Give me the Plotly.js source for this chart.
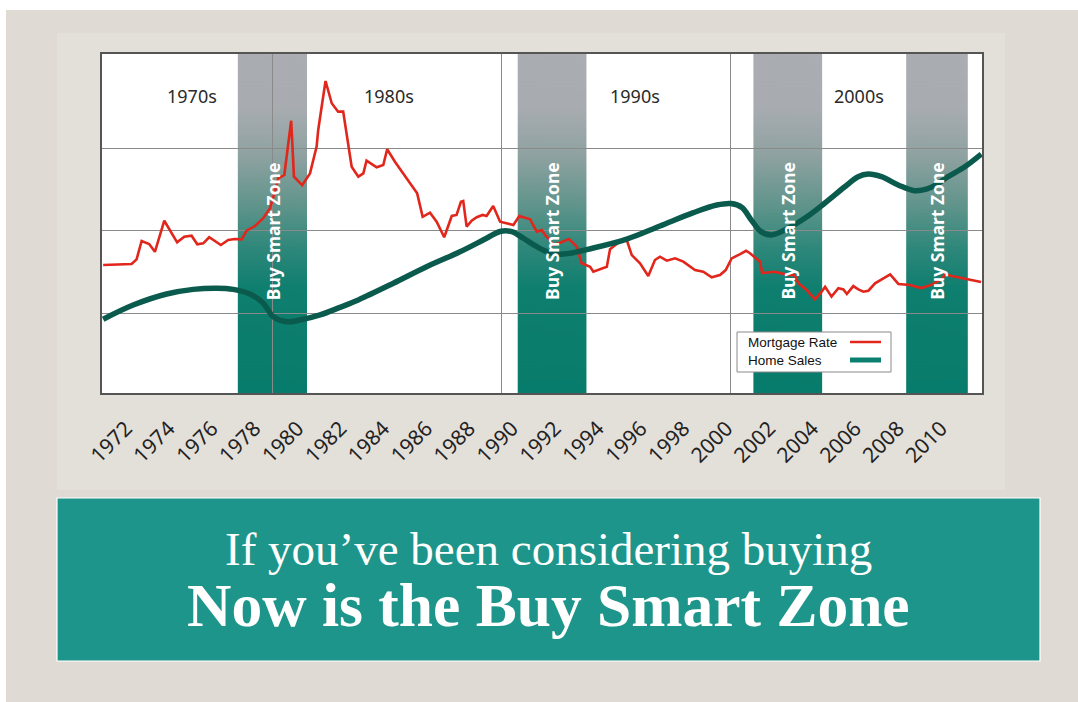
<!DOCTYPE html>
<html><head><meta charset="utf-8">
<script src="https://cdn.plot.ly/plotly-3.0.1.min.js"></script>
<style>html,body{margin:0;padding:0;background:#fff;overflow:hidden}
#chart{position:absolute;left:6px;top:10px;width:1072px;height:692px}</style>
</head><body><div id="chart"></div>
<script>
// ---------------- data ----------------
const rateYears = [1972.60,1973.84,1974.06,1974.28,1974.61,1974.86,1975.27,1975.83,1976.14,1976.46,
1976.71,1976.97,1977.23,1977.74,1978.06,1978.35,1978.65,1978.86,1979.23,1979.59,
1979.88,1980.10,1980.24,1980.51,1980.81,1980.93,1981.29,1981.63,1981.92,1981.99,
1982.14,1982.31,1982.58,1982.86,1983.08,1983.23,1983.45,1983.74,1983.96,1984.10,
1984.54,1984.83,1985.00,1985.34,1985.63,1986.00,1986.31,1986.55,1986.87,1987.16,
1987.49,1987.82,1988.03,1988.22,1988.32,1988.47,1988.69,1988.91,1989.17,1989.34,
1989.63,1989.93,1990.51,1990.77,1991.24,1991.53,1991.75,1991.89,1992.11,1992.25,
1992.55,1992.94,1993.28,1993.49,1993.86,1994.00,1994.59,1994.73,1995.24,1995.46,
1995.68,1996.04,1996.40,1996.69,1996.91,1997.21,1997.57,1997.93,1998.44,1998.80,
1999.17,1999.53,1999.78,2000.04,2000.41,2000.67,2000.84,2001.14,2001.28,2001.37,
2001.93,2002.15,2002.50,2002.79,2002.95,2003.32,2003.68,2003.97,2004.12,2004.40,
2004.70,2004.92,2005.07,2005.35,2005.57,2005.79,2006.01,2006.30,2006.59,2006.96,
2007.32,2007.83,2008.31,2008.75,2009.23,2009.35,2009.65,2010.16,2010.93];
const rateValues = [7.93,7.99,8.27,9.38,9.20,8.73,10.61,9.30,9.64,9.70,
9.18,9.24,9.61,9.14,9.44,9.50,9.48,10.01,10.29,10.76,
11.36,12.37,13.18,13.38,16.67,13.28,12.76,13.48,15.10,16.11,
17.52,19.08,17.73,17.22,17.22,15.91,13.88,13.28,13.48,14.25,
13.85,13.99,14.94,14.19,13.58,12.88,12.27,10.85,11.10,10.55,
9.61,10.90,10.96,11.76,11.81,10.25,10.61,10.82,10.96,10.90,
11.50,10.55,10.35,10.90,10.70,9.95,10.05,9.75,9.44,9.14,
9.28,9.50,9.04,8.03,7.82,7.52,7.82,8.88,9.44,9.44,
8.53,8.03,7.26,8.23,8.43,8.19,8.33,8.13,7.62,7.52,
7.18,7.32,7.62,8.33,8.59,8.79,8.64,8.27,8.13,7.44,
7.52,7.44,7.32,7.32,6.82,6.41,5.85,6.31,6.61,6.01,
6.52,6.45,6.17,6.65,6.45,6.31,6.37,6.82,7.06,7.36,
6.78,6.72,6.53,6.72,7.08,7.36,7.26,7.12,6.90];

const salesYears = [1972.60,1973.91,1975.37,1976.53,1977.55,1978.28,1979.01,1979.59,1980.03,1980.61,
1981.19,1982.07,1982.94,1983.74,1985.27,1986.72,1988.18,1989.34,1989.93,1990.44,
1990.94,1991.53,1992.11,1992.69,1994.00,1995.46,1996.91,1998.37,1999.39,2000.01,
2000.49,2000.90,2001.32,2001.77,2002.36,2003.23,2004.10,2004.98,2005.56,2006.00,
2006.58,2007.31,2008.03,2008.76,2009.49,2010.22,2010.94];
const salesValues = [4.64,5.50,6.17,6.45,6.52,6.45,6.17,5.61,4.79,4.49,
4.59,4.90,5.36,5.81,6.82,7.82,8.73,9.55,9.96,9.95,
9.55,9.04,8.67,8.59,8.96,9.50,10.29,11.10,11.56,11.65,
11.41,10.65,9.95,9.75,10.05,10.76,11.67,12.67,13.28,13.44,
13.28,12.78,12.43,12.64,13.28,13.88,14.65];

const zoneStart = [1978.48, 1990.70, 2000.99, 2007.66];
const zoneEnd   = [1981.50, 1993.70, 2003.99, 2010.35];
const zoneLabel = 'Buy Smart Zone';
const decadeLabels = ['1970s', '1980s', '1990s', '2000s'];
const decadeX = [1976.48, 1985.06, 1995.80, 2005.60];
const decadeGrid = [1980, 1990, 2000];
const tickYears = [1972,1974,1976,1978,1980,1982,1984,1986,1988,1990,1992,1994,1996,1998,2000,2002,2004,2006,2008,2010];
const seriesNames = ['Mortgage Rate', 'Home Sales'];
const bannerLines = ['If you\u2019ve been considering buying', 'Now is the Buy Smart Zone'];

// ---------------- layout helpers ----------------
const X_RANGE = [1972.55, 2010.97];
const Y_MIN = 0.17, Y_MAX = 20.715;
const PX0 = 102, PX1 = 982, PY0 = 54, PY1 = 393;   // plot area in page pixels
const px = v => (v - PX0) / (PX1 - PX0);
const py = v => (PY1 - v) / (PY1 - PY0);

const RED = '#e1261c', GREEN = '#0a5b4d', TEAL = '#0c8070';

function gradientURL() {
  const c = document.createElement('canvas');
  c.width = 4; c.height = 340;
  const g = c.getContext('2d');
  const lg = g.createLinearGradient(0, 0, 0, 340);
  lg.addColorStop(0.00, '#aaadb2');
  lg.addColorStop(0.16, '#a8acb0');
  lg.addColorStop(0.30, '#8fa2a1');
  lg.addColorStop(0.45, '#5f948b');
  lg.addColorStop(0.57, '#2f887b');
  lg.addColorStop(0.69, '#0f7f6f');
  lg.addColorStop(1.00, '#087c6c');
  g.fillStyle = lg;
  g.fillRect(0, 0, 4, 340);
  return c.toDataURL();
}
const grad = gradientURL();

const traces = [
  {x: rateYears, y: rateValues, type: 'scatter', mode: 'lines', name: seriesNames[0],
   line: {color: RED, width: 2.6}, showlegend: false, hoverinfo: 'skip'},
  {x: salesYears, y: salesValues, type: 'scatter', mode: 'lines', name: seriesNames[1],
   line: {color: GREEN, width: 5.5, shape: 'spline', smoothing: 1}, showlegend: false, hoverinfo: 'skip'},
  {x: tickYears, y: tickYears.map(() => null), xaxis: 'x2', yaxis: 'y', type: 'scatter', mode: 'markers',
   showlegend: false, hoverinfo: 'skip'}
];

const images = zoneStart.map((s, i) => ({
  source: grad, xref: 'x', yref: 'y', x: s, y: Y_MAX, sizex: zoneEnd[i] - s, sizey: Y_MAX - Y_MIN,
  xanchor: 'left', yanchor: 'top', sizing: 'stretch', layer: 'below'
}));

const shapes = [
  {type: 'rect', xref: 'paper', yref: 'paper', x0: px(57), x1: px(1005), y0: py(33), y1: py(490),
   fillcolor: '#e3dfd9', line: {width: 0}, layer: 'below'},
  {type: 'rect', xref: 'paper', yref: 'paper', x0: 0, x1: 1, y0: 0, y1: 1,
   fillcolor: '#ffffff', line: {width: 0}, layer: 'below'},
  // legend box
  {type: 'rect', xref: 'paper', yref: 'paper', x0: px(737), x1: px(891), y0: py(372), y1: py(332),
   fillcolor: '#ffffff', line: {color: '#8a8a8a', width: 1}, layer: 'above'},
  {type: 'line', xref: 'paper', yref: 'paper', x0: px(850), x1: px(881), y0: py(342), y1: py(342),
   line: {color: RED, width: 2.5}, layer: 'above'},
  {type: 'line', xref: 'paper', yref: 'paper', x0: px(850), x1: px(881), y0: py(360), y1: py(360),
   line: {color: TEAL, width: 5}, layer: 'above'},
  // banner
  {type: 'rect', xref: 'paper', yref: 'paper', x0: px(57), x1: px(1040), y0: py(661), y1: py(498),
   fillcolor: '#1e958a', line: {color: '#ffffff', width: 1.2}, layer: 'above'}
];

const annotations = [];
decadeLabels.forEach((t, i) => annotations.push({
  text: t, x: decadeX[i], y: 18.2, xref: 'x', yref: 'y', showarrow: false,
  font: {family: 'Noto Sans', size: 18, color: '#2a2a2a'}
}));
zoneStart.forEach((s, i) => annotations.push({
  text: '<b>' + zoneLabel + '</b>', x: (s + zoneEnd[i]) / 2, y: 10.0, xref: 'x', yref: 'y', showarrow: false,
  textangle: -90, font: {family: 'Noto Sans', size: 17.5, color: '#ffffff'}
}));
annotations.push(
  {text: seriesNames[0], xref: 'paper', yref: 'paper', x: px(746), y: py(342), xanchor: 'left', yanchor: 'middle',
   showarrow: false, font: {family: 'Liberation Sans', size: 13.5, color: '#111'}},
  {text: seriesNames[1], xref: 'paper', yref: 'paper', x: px(746), y: py(360), xanchor: 'left', yanchor: 'middle',
   showarrow: false, font: {family: 'Liberation Sans', size: 13.5, color: '#111'}},
  {text: bannerLines[0], xref: 'paper', yref: 'paper', x: px(548), y: py(549), xanchor: 'center', yanchor: 'middle',
   showarrow: false, font: {family: 'Liberation Serif', size: 47, color: '#ffffff'}},
  {text: '<b>' + bannerLines[1] + '</b>', xref: 'paper', yref: 'paper', x: px(548), y: py(605), xanchor: 'center', yanchor: 'middle',
   showarrow: false, font: {family: 'Liberation Serif', size: 61.5, color: '#ffffff'}}
);

const layout = {
  width: 1072, height: 692,
  margin: {l: 96, r: 96, t: 44, b: 309, pad: 0},
  paper_bgcolor: '#dfdbd4', plot_bgcolor: 'rgba(0,0,0,0)',
  showlegend: false,
  xaxis: {range: X_RANGE, tickmode: 'array', tickvals: decadeGrid, showticklabels: false, ticks: '',
          showgrid: true, gridcolor: '#8a8a8a', gridwidth: 1.2, zeroline: false,
          showline: true, mirror: true, linecolor: '#555', linewidth: 1.6, fixedrange: true},
  xaxis2: {overlaying: 'x', anchor: 'y', side: 'bottom', range: [1970.881, 2011.912],
           tickmode: 'array', tickvals: tickYears, ticktext: tickYears.map(String), tickangle: -45,
           showgrid: false, showline: false, zeroline: false, ticks: '', ticklabelstandoff: 18,
           tickfont: {family: 'Noto Sans', size: 21, color: '#222'}, fixedrange: true},
  yaxis: {range: [Y_MIN, Y_MAX], tickmode: 'array', tickvals: [5, 10, 15], showticklabels: false, ticks: '',
          showgrid: true, gridcolor: '#8a8a8a', gridwidth: 1.2, zeroline: false,
          showline: true, mirror: true, linecolor: '#555', linewidth: 1.6, fixedrange: true},
  images: images, shapes: shapes, annotations: annotations
};

Plotly.newPlot('chart', traces, layout, {staticPlot: true, displayModeBar: false});
</script></body></html>
